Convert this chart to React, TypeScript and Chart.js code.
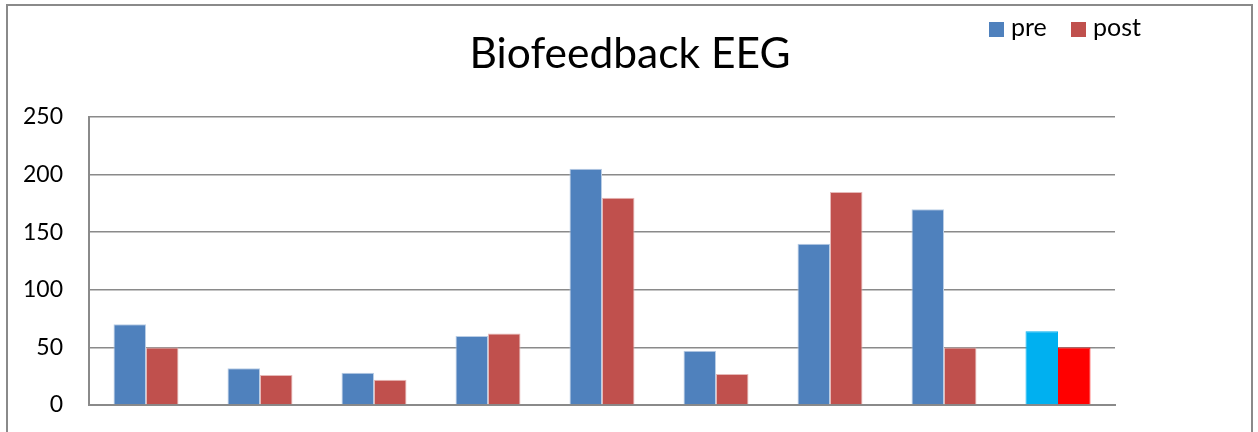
import React, { useEffect, useRef } from "react";
import { Chart, registerables } from "chart.js";

Chart.register(...registerables);

const TITLE = "Biofeedback EEG";
const categories = ["1", "2", "3", "4", "5", "6", "7", "8", "9"];
const preValues = [70, 32, 28, 60, 205, 47, 140, 170, 64];
const postValues = [50, 26, 22, 62, 180, 27, 185, 50, 50];
const seriesNames = ["pre", "post"];
const yTicks = [0, 50, 100, 150, 200, 250];

const PRE = "#4F81BD";
const PRE_LAST = "#00B0F0";
const POST = "#C0504D";
const POST_LAST = "#FF0000";
const FONT = "Lato, 'Noto Sans', sans-serif";

const decorPlugin = {
  id: "decor",
  beforeDraw(chart: any) {
    const ctx = chart.ctx;
    ctx.save();
    ctx.fillStyle = "#ffffff";
    ctx.fillRect(0, 0, chart.width, chart.height);
    ctx.strokeStyle = "#8a8a8a";
    ctx.lineWidth = 2;
    ctx.strokeRect(7, 5, 1245, 600);
    ctx.restore();
  },
  afterDraw(chart: any) {
    const ctx = chart.ctx;
    ctx.save();
    ctx.fillStyle = "#000000";
    ctx.textAlign = "center";
    ctx.textBaseline = "alphabetic";
    ctx.font = `42.5px ${FONT}`;
    ctx.fillText(TITLE, 630, 68);
    // legend
    ctx.textAlign = "left";
    ctx.font = `25px ${FONT}`;
    const ds = chart.data.datasets;
    const boxX = [989, 1071];
    ds.forEach((d: any, i: number) => {
      const c = Array.isArray(d.backgroundColor) ? d.backgroundColor[0] : d.backgroundColor;
      ctx.fillStyle = c;
      ctx.fillRect(boxX[i], 22, 15, 15);
      ctx.fillStyle = "#000000";
      ctx.fillText(d.label, boxX[i] + 22, 36);
    });
    ctx.restore();
  },
};

export default function App() {
  const ref = useRef<HTMLCanvasElement>(null);
  useEffect(() => {
    if (!ref.current) return;
    const n = categories.length;
    const preColors = preValues.map((_, i) => (i === n - 1 ? PRE_LAST : PRE));
    const postColors = postValues.map((_, i) => (i === n - 1 ? POST_LAST : POST));
    const preBorders = preValues.map((_, i) => (i === n - 1 ? PRE_LAST : "#b9cde5"));
    const postBorders = postValues.map((_, i) => (i === n - 1 ? POST_LAST : "#e6b9b8"));
    const chart = new Chart(ref.current, {
      type: "bar",
      data: {
        labels: categories,
        datasets: [
          {
            label: seriesNames[0],
            data: preValues,
            backgroundColor: preColors,
            borderColor: preBorders,
            borderWidth: 1,
          },
          {
            label: seriesNames[1],
            data: postValues,
            backgroundColor: postColors,
            borderColor: postBorders,
            borderWidth: 1,
          },
        ],
      },
      options: {
        responsive: false,
        animation: false,
        layout: { padding: { left: 0, right: 143, top: 117, bottom: 27 } },
        plugins: {
          legend: { display: false },
          title: { display: false },
          tooltip: { enabled: false },
        },
        datasets: { bar: { categoryPercentage: 0.57, barPercentage: 1 } },
        scales: {
          x: {
            grid: { display: false, drawTicks: false },
            border: { display: true, color: "#8a8a8a", width: 2 },
            ticks: { display: false },
            afterFit: (s: any) => {
              s.height = 0;
              s.paddingLeft = 0;
              s.paddingRight = 0;
            },
          },
          y: {
            min: 0,
            max: 250,
            afterBuildTicks: (s: any) => {
              s.ticks = yTicks.map((v) => ({ value: v }));
            },
            grid: { color: "#8a8a8a", lineWidth: 1.5, drawTicks: false },
            border: { display: true, color: "#8a8a8a", width: 2 },
            ticks: {
              padding: 26,
              color: "#000000",
              font: { family: FONT, size: 23 },
            },
            afterFit: (s: any) => {
              s.width = 89;
              s.paddingTop = 0;
              s.paddingBottom = 0;
            },
          },
        },
      },
      plugins: [decorPlugin],
    });
    return () => chart.destroy();
  }, []);
  return (
    <div style={{ position: "absolute", left: 0, top: 0, width: 1258, height: 432 }}>
      <canvas ref={ref} width={1258} height={432} style={{ display: "block" }} />
    </div>
  );
}
